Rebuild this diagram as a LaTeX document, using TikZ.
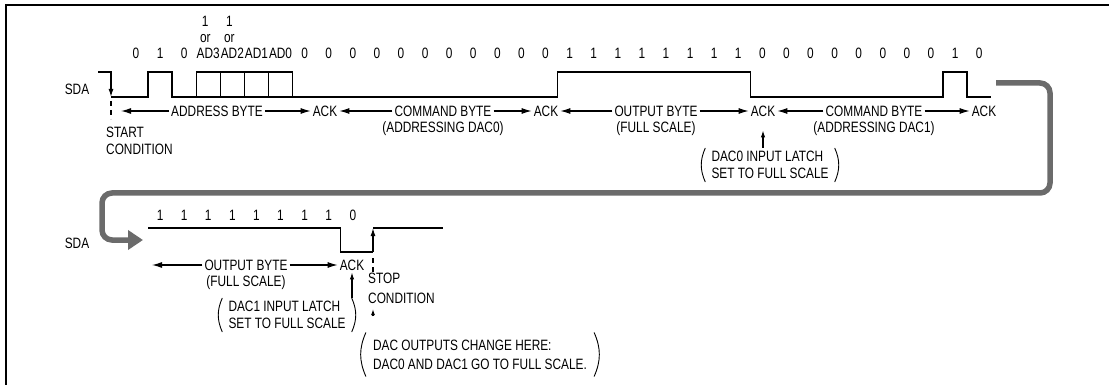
\documentclass[tikz,border=0pt]{standalone}
\usepackage{fontspec}
\setmainfont{Liberation Sans}[FakeStretch=0.79]
\usetikzlibrary{arrows.meta,positioning}

\newcommand\dfont{\fontsize{15}{17}\selectfont}
% round brackets on both sides of a note
\newcommand\brackets[1]{%
  \draw[line width=0.9pt] (#1.north west) to[bend right=24] (#1.south west)
                         (#1.north east) to[bend left=24] (#1.south east);}

\tikzset{%
  wave/.style={line width=1.3pt},
  txt/.style={font=\dfont, inner sep=2pt, text height=10.5pt, text depth=0pt},
  note/.style={font=\dfont, inner xsep=6pt, inner ysep=3pt, align=left},
  span/.style={line width=1.1pt, -{Latex[length=10pt,width=6pt]}},
  rise/.style={line width=1.1pt, -{Latex[length=7pt,width=4.5pt]}},
  cond/.style={line width=1.1pt, dash pattern=on 5pt off 4pt},
  flow/.style={line width=5.5pt, draw=black!58, rounded corners=10pt,
    -{Triangle[length=15pt,width=19pt]}}
}

\begin{document}
\begin{tikzpicture}[x=1pt, y=-1pt]
\useasboundingbox (0,0) rectangle (1109,385);
\draw[line width=2pt] (6,385) -- (6,5) -- (1109,5);

% first line of the transfer
\node[txt] (sda1) at (77,89) {SDA};
\foreach \i/\b in {0/0,1/1,2/0,3/AD3,4/AD2,5/AD1,6/AD0}
  \node[txt] (t\i) at ({136+24.09*\i},53) {\b};
\foreach \i in {7,...,17}
  \node[txt] (t\i) at ({136+24.09*\i},53) {0};
\foreach \i in {18,...,25}
  \node[txt] (t\i) at ({136+24.09*\i},53) {1};
\foreach \i in {26,...,33}
  \node[txt] (t\i) at ({136+24.09*\i},53) {0};
\node[txt] (t34) at ({136+24.09*34},53) {1};
\node[txt] (t35) at ({136+24.09*35},53) {0};
\foreach \i in {3,4} {
  \node[txt] (one\i) at ({133+24.09*\i},21) {1};
  \node[txt] (or\i) at ({133+24.09*\i},37) {or};
}

\draw[wave, -{Latex[length=8pt,width=5pt]}] (98,72) -| (111,97);
\draw[wave] (111,97) -| (148,72) -| (172.1,97) -- (196.2,97);
\draw[wave] (196.2,72) rectangle (292.5,97);
\foreach \x in {220.3,244.4,268.5}
  \draw[wave] (\x,72) -- (\x,97);
\draw[wave] (292.5,97) -| (557.5,72) -| (750.2,97) -| (943,72) -| (967,97) -- (991,97);
\draw[cond] (111,101) -- (111,119);

\coordinate (s0) at (121,111);
\node[txt] (addr) at (217,111) {ADDRESS BYTE};
\node[txt] (ack1) at (325,111) {ACK};
\node[txt] (cmd0) at (443,111) {COMMAND BYTE};
\node[txt] (ack2) at (546,111) {ACK};
\node[txt] (out0) at (656,111) {OUTPUT BYTE};
\node[txt] (ack3) at (763,111) {ACK};
\node[txt] (cmd1) at (874,111) {COMMAND BYTE};
\node[txt] (ack4) at (984,111) {ACK};
\draw[span] (addr.west) -- (s0);
\draw[span] (addr.east) -- (ack1.west);
\draw[span] (cmd0.west) -- (ack1.east);
\draw[span] (cmd0.east) -- (ack2.west);
\draw[span] (out0.west) -- (ack2.east);
\draw[span] (out0.east) -- (ack3.west);
\draw[span] (cmd1.west) -- (ack3.east);
\draw[span] (cmd1.east) -- (ack4.west);

\node[txt] (cmd0b) at (443,127) {(ADDRESSING DAC0)};
\node[txt] (out0b) at (656,127) {(FULL SCALE)};
\node[txt] (cmd1b) at (874,127) {(ADDRESSING DAC1)};
\node[note, anchor=north west, inner xsep=0pt] (start) at (106,124) {START\\CONDITION};

\node[note] (latch0) at (770,165) {DAC0 INPUT LATCH\\SET TO FULL SCALE};
\brackets{latch0}
\draw[rise] (latch0.north -| ack3) -- ([yshift=-12pt]ack3.south);

% wrap round to the second line
\coordinate (wrapin) at (996,83);
\coordinate (wrapout) at (143,240);
\draw[flow] (wrapin) -- (1050,83) -- (1050,193) -- (102,193) -- (102,240) -- (wrapout);

% second line of the transfer
\node[txt] (sda2) at (77,243) {SDA};
\foreach \i in {1,...,8}
  \node[txt] (u\i) at ({136+24.09*\i},215) {1};
\node[txt] (u9) at ({136+24.09*9},215) {0};

\coordinate (stopx) at (373,252);
\draw[wave] (148,228) -| (340.7,252) -- (stopx);
\draw[wave, -{Latex[length=8pt,width=5pt]}] (stopx) -- (373,228);
\draw[wave] (373,228) -- (443,228);
\draw[cond] (373,258) -- (373,276);

\coordinate (s1) at (152,265);
\node[txt] (out1) at (246,265) {OUTPUT BYTE};
\node[txt] (ack5) at (352,265) {ACK};
\draw[span] (out1.west) -- (s1);
\draw[span] (out1.east) -- (ack5.west);
\node[txt] (out1b) at (246,281) {(FULL SCALE)};
\node[note, anchor=north west, inner xsep=0pt] (stop) at (368,270) {STOP\\[3pt]CONDITION};

\node[note] (latch1) at (287,315) {DAC1 INPUT LATCH\\SET TO FULL SCALE};
\brackets{latch1}
\draw[rise] (latch1.north -| ack5) -- (ack5.south);

\node[note, inner xsep=7pt, inner ysep=7pt] (chg) at (480,354.5) {DAC OUTPUTS CHANGE HERE:\\[2pt]DAC0 AND DAC1 GO TO FULL SCALE.};
\brackets{chg}
\draw[line width=1.1pt, -{Latex[length=6pt,width=4pt]}] ([yshift=16pt]chg.north -| stopx) -- ([yshift=-2pt]stop.south -| stopx);
\end{tikzpicture}
\end{document}
